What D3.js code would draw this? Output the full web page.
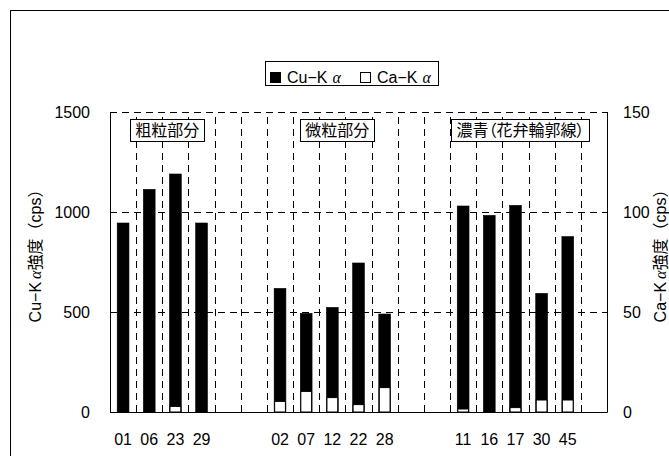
<!DOCTYPE html>
<html>
<head>
<meta charset="utf-8">
<script src="https://cdn.jsdelivr.net/npm/d3@7"></script>
<style>
  body { margin: 0; background: #fff; }
  svg { display: block; }
  .num { font-family: "Liberation Sans", Arial, sans-serif; font-size: 16px; fill: #000; }
  .jp { font-family: "Liberation Sans", "Noto Sans CJK JP", sans-serif; font-size: 16px; fill: #000; }
  .grp { font-family: "Noto Sans CJK JP", sans-serif; font-size: 16px; fill: #000; font-feature-settings: "palt"; }
  .alpha { font-family: "Liberation Serif", serif; font-style: italic; }
</style>
</head>
<body>
<div id="chart"></div>
<script>
(function () {
  /* ----------------------- Data ----------------------- */
  const categories = ["01", "06", "23", "29", "", "", "02", "07", "12", "22", "28", "", "", "11", "16", "17", "30", "45", ""];
  const cuValues = [945, 1113, 1190, 945, null, null, 618, 493, 523, 745, 490, null, null, 1030, 983, 1033, 593, 877, null];
  const caValues = [0, 0, 2.8, 0, null, null, 5.3, 10.3, 7.2, 3.7, 12.2, null, null, 1.5, 0, 2.2, 6, 6, null];
  const leftTicks = [0, 500, 1000, 1500];
  const rightTicks = [0, 50, 100, 150];
  const groupLabels = ["粗粒部分", "微粒部分", "濃青（花弁輪郭線）"];
  const groupFirst = [0, 6, 13];
  const groupLast = [3, 10, 17];

  /* ----------------------- Dimensions ----------------------- */
  const W = 669, H = 456;
  const plot = { left: 110, right: 607, top: 112, bottom: 412 };

  const svg = d3.select("#chart").append("svg")
    .attr("width", W).attr("height", H);

  // outer chart frame (runs past the window edge)
  svg.append("rect")
    .attr("x", 10.5).attr("y", 10.5)
    .attr("width", 720).attr("height", 520)
    .attr("fill", "none").attr("stroke", "#000");

  /* ----------------------- Scales ----------------------- */
  const x = d3.scaleBand()
    .domain(d3.range(categories.length))
    .range([plot.left, plot.right])
    .paddingInner(0.55)
    .paddingOuter(0.275);

  const yLeft = d3.scaleLinear().domain([0, 1500]).range([plot.bottom, plot.top]);
  const yRight = d3.scaleLinear().domain([0, 150]).range([plot.bottom, plot.top]);

  const gap = (x.step() - x.bandwidth()) / 2;

  /* ----------------------- Grid ----------------------- */
  svg.append("g")
    .selectAll("line")
    .data(d3.range(1, categories.length))
    .join("line")
    .attr("x1", (i) => Math.round(x(i) - gap) + 0.5)
    .attr("x2", (i) => Math.round(x(i) - gap) + 0.5)
    .attr("y1", plot.bottom)
    .attr("y2", plot.top)
    .attr("stroke", "#000")
    .attr("stroke-dasharray", "7,5");

  svg.append("g")
    .selectAll("line")
    .data(leftTicks.filter((d) => d > 0))
    .join("line")
    .attr("x1", plot.left)
    .attr("x2", plot.right)
    .attr("y1", (d) => Math.round(yLeft(d)) + 0.5)
    .attr("y2", (d) => Math.round(yLeft(d)) + 0.5)
    .attr("stroke", "#000")
    .attr("stroke-dasharray", "7,5");

  /* ----------------------- Bars ----------------------- */
  const idx = d3.range(categories.length);

  svg.append("g")
    .selectAll("rect")
    .data(idx.filter((i) => cuValues[i] != null))
    .join("rect")
    .attr("x", (i) => x(i))
    .attr("y", (i) => yLeft(cuValues[i]))
    .attr("width", x.bandwidth())
    .attr("height", (i) => yLeft(0) - yLeft(cuValues[i]))
    .attr("fill", "#000")
    .attr("stroke", "#000")
    .attr("stroke-width", 0.6);

  svg.append("g")
    .selectAll("rect")
    .data(idx.filter((i) => caValues[i]))
    .join("rect")
    .attr("x", (i) => x(i) + 0.5)
    .attr("y", (i) => yRight(caValues[i]))
    .attr("width", x.bandwidth() - 1)
    .attr("height", (i) => yRight(0) - yRight(caValues[i]))
    .attr("fill", "#fff")
    .attr("stroke", "#000")
    .attr("stroke-width", 1);

  /* ----------------------- Axes ----------------------- */
  const xAxis = d3.axisBottom(x)
    .tickSize(0).tickPadding(22)
    .tickFormat((i) => categories[i]);
  const xg = svg.append("g").attr("transform", `translate(0,${plot.bottom})`).call(xAxis);
  xg.select(".domain").remove();
  xg.selectAll("text").attr("class", "num").attr("fill", null);

  const yl = svg.append("g").attr("transform", `translate(${plot.left},0)`)
    .call(d3.axisLeft(yLeft).tickValues(leftTicks).tickFormat(d3.format("d")).tickSize(0).tickPadding(20));
  yl.select(".domain").remove();
  yl.selectAll("text").attr("class", "num").attr("fill", null);

  const yr = svg.append("g").attr("transform", `translate(${plot.right},0)`)
    .call(d3.axisRight(yRight).tickValues(rightTicks).tickFormat(d3.format("d")).tickSize(0).tickPadding(16));
  yr.select(".domain").remove();
  yr.selectAll("text").attr("class", "num").attr("fill", null);

  // axis lines: left, bottom, right solid; top dashed
  const axisPath = svg.append("g").attr("fill", "none").attr("stroke", "#000");
  axisPath.append("line")
    .attr("x1", plot.left + 0.5).attr("x2", plot.left + 0.5)
    .attr("y1", plot.top).attr("y2", plot.bottom + 0.5);
  axisPath.append("line")
    .attr("x1", plot.left).attr("x2", plot.right + 0.5)
    .attr("y1", plot.bottom + 0.5).attr("y2", plot.bottom + 0.5);
  axisPath.append("line")
    .attr("x1", plot.right + 0.5).attr("x2", plot.right + 0.5)
    .attr("y1", plot.top).attr("y2", plot.bottom + 0.5);
  axisPath.append("line")
    .attr("x1", plot.left).attr("x2", plot.right + 0.5)
    .attr("y1", plot.top + 0.5).attr("y2", plot.top + 0.5)
    .attr("stroke-dasharray", "7,5");

  /* ----------------------- Axis titles ----------------------- */
  function axisTitle(cx, cy, prefix) {
    const t = svg.append("text")
      .attr("class", "jp")
      .attr("text-anchor", "middle")
      .attr("transform", `translate(${cx},${cy}) rotate(-90)`);
    t.append("tspan").text(prefix + "−K");
    t.append("tspan").attr("class", "alpha").attr("dx", 3).text("α");
    t.append("tspan").text("強度（cps）");
  }
  axisTitle(41, 252, "Cu");
  axisTitle(666, 252, "Ca");

  /* ----------------------- Group labels ----------------------- */
  groupLabels.forEach((label, k) => {
    const cx = (x(groupFirst[k]) + x(groupLast[k]) + x.bandwidth()) / 2 + 5;
    const g = svg.append("g");
    const txt = g.append("text")
      .attr("class", "grp")
      .attr("x", cx)
      .attr("y", 136)
      .attr("text-anchor", "middle")
      .text(label);
    const w = txt.node().getComputedTextLength();
    g.insert("rect", "text")
      .attr("x", Math.round(cx - w / 2 - 5) + 0.5)
      .attr("y", 119.5)
      .attr("width", Math.round(w + 10))
      .attr("height", 22)
      .attr("fill", "#fff")
      .attr("stroke", "#000");
  });

  /* ----------------------- Legend ----------------------- */
  const legend = svg.append("g");
  legend.append("rect")
    .attr("x", 265.5).attr("y", 61.5)
    .attr("width", 173).attr("height", 24)
    .attr("fill", "#fff").attr("stroke", "#000");

  const keys = [
    { name: "Cu", fill: "#000", x: 270 },
    { name: "Ca", fill: "#fff", x: 360 }
  ];
  keys.forEach((k) => {
    legend.append("rect")
      .attr("x", k.x + 0.5).attr("y", 72.5)
      .attr("width", 10).attr("height", 10)
      .attr("fill", k.fill).attr("stroke", "#000");
    const t = legend.append("text")
      .attr("class", "jp")
      .attr("x", k.x + 17).attr("y", 83);
    t.append("tspan").text(k.name + "−K");
    t.append("tspan").attr("class", "alpha").attr("dx", 5).text("α");
  });
})();
</script>
</body>
</html>
